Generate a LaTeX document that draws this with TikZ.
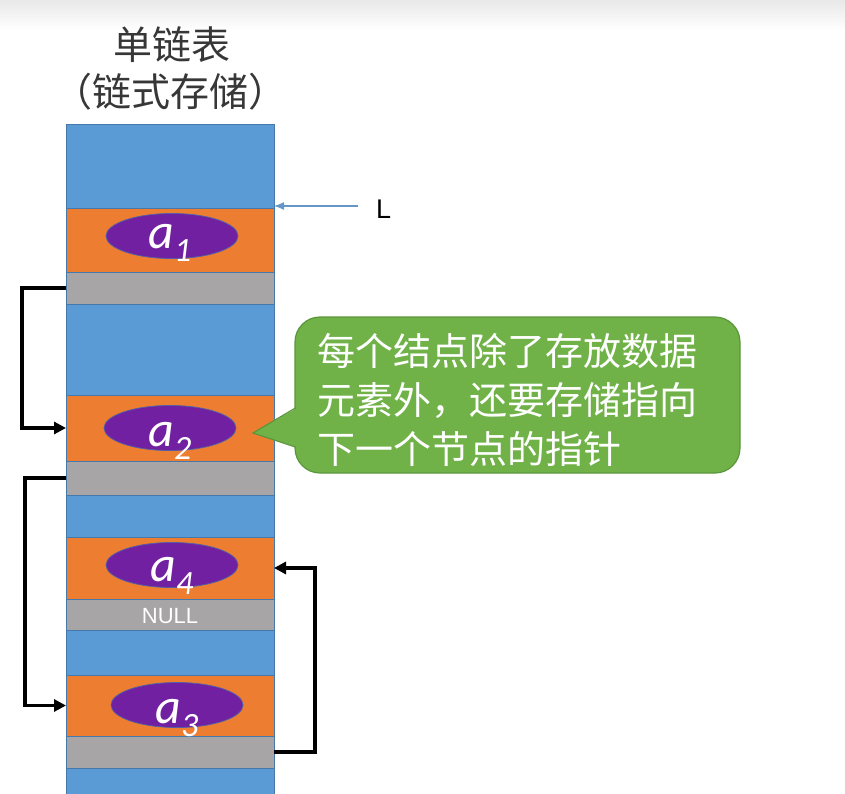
\documentclass[tikz,border=0pt]{standalone}
\usepackage{fontspec}
\setmainfont{Liberation Sans}
\newfontfamily\cjk{Noto Sans CJK SC}
\newfontfamily\lab{Carlito}
\usetikzlibrary{shapes.geometric,arrows.meta}
\definecolor{cblue}{RGB}{91,155,213}
\definecolor{corange}{RGB}{237,125,49}
\definecolor{cgray}{RGB}{168,165,166}
\definecolor{cpurple}{RGB}{112,32,160}
\definecolor{cline}{RGB}{70,120,170}
\definecolor{cgreen}{RGB}{112,178,72}
\definecolor{cgreenb}{RGB}{90,150,60}
\definecolor{ctitle}{RGB}{55,55,55}
\definecolor{larr}{RGB}{100,150,200}
\newcommand{\alab}[1]{{\lab\fontsize{50}{50}\selectfont\itshape a}\raisebox{-13pt}{\lab\fontsize{34}{34}\selectfont\itshape #1}}
\tikzset{
  band/.style={rectangle,inner sep=0pt,outer sep=0pt,minimum width=208pt,draw=cline,line width=0.8pt},
  bblue/.style={band,fill=cblue},
  borange/.style={band,fill=corange},
  bgray/.style={band,fill=cgray},
  elem/.style={ellipse,inner sep=0pt,minimum width=132pt,minimum height=45pt,fill=cpurple,draw=cline!70!cpurple,line width=0.8pt},
  elab/.style={text=white,inner sep=0pt,anchor=base},
  link/.style={draw=black,line width=3.2pt,-{Triangle[length=12pt,width=12pt]}},
}
\begin{document}
\begin{tikzpicture}[x=1pt,y=-1pt]
\useasboundingbox (0,0) rectangle (845,794);
\shade[top color=black!9,bottom color=white] (0,0) rectangle (845,30);
% title
\node[text=ctitle,font=\cjk\fontsize{39}{39}\selectfont] (t1) at (172,45) {单链表};
\node[text=ctitle,font=\cjk\fontsize{39}{39}\selectfont] (t2) at (170,92) {（链式存储）};
% column bands
\begin{scope}
\clip (0,0) rectangle (845,794);
\node[bblue,minimum height=84pt] (b0) at (170,166) {};
\node[borange,minimum height=64pt] (o1) at (170,240) {};
\node[bgray,minimum height=32pt] (g1) at (170,288) {};
\node[bblue,minimum height=91pt] (b1) at (170,349.5) {};
\node[borange,minimum height=66pt] (o2) at (170,428) {};
\node[bgray,minimum height=34pt] (g2) at (170,478) {};
\node[bblue,minimum height=42pt] (b2) at (170,516) {};
\node[borange,minimum height=62pt] (o4) at (170,568) {};
\node[bgray,minimum height=31pt] (g4) at (170,614.5) {};
\node[bblue,minimum height=45pt] (b3) at (170,652.5) {};
\node[borange,minimum height=61pt] (o3) at (170,705.5) {};
\node[bgray,minimum height=32pt] (g3) at (170,752) {};
\node[bblue,minimum height=40pt] (b4) at (170,788) {};
\end{scope}
% elements
\node[elem] (e1) at (172,236) {};
\node[elem] (e2) at (170,428) {};
\node[elem] (e4) at (172,565) {};
\node[elem] (e3) at (177,705) {};
\node[elab] (l1) at (170,248) {\alab{1}};
\node[elab] (l2) at (170,446) {\alab{2}};
\node[elab] (l4) at (172,581) {\alab{4}};
\node[elab] (l3) at (177,723) {\alab{3}};
\node[text=white,inner sep=0pt,font=\fontsize{22}{22}\selectfont] (null) at (170,616) {NULL};
% links
\draw[link] (g1.west) -- ++(-44,0) |- (o2.west);
\draw[link] (g2.west) -- ++(-41,0) |- (o3.west);
\draw[link] (g3.east) -- ++(41,0) |- (o4.east);
% head pointer L
\node[inner sep=0pt,anchor=base west,font=\fontsize{27}{27}\selectfont] (L) at (376,219) {L};
\coordinate (Lfree) at (358,206);
\draw[draw=larr,line width=1.3pt,-{Latex[length=10pt,width=8pt]}] (Lfree) -- (Lfree -| b0.east);
% callout
\node[rounded corners=25pt,fill=cgreen,draw=cgreenb,line width=1.2pt,minimum width=445pt,minimum height=156pt,inner sep=0pt] (call) at (517.5,395) {};
\fill[cgreen] (253,433) -- (297,408) -- (297,447) -- cycle;
\draw[cgreenb,line width=1.2pt,line join=miter] (295.4,408) -- (253,433) -- (295.4,447);
\node[anchor=west,align=left,text=white,inner sep=0pt,font=\cjk\fontsize{38}{49}\selectfont] (ctext) at (317,400) {每个结点除了存放数据\\元素外，还要存储指向\\下一个节点的指针};
\end{tikzpicture}
\end{document}
